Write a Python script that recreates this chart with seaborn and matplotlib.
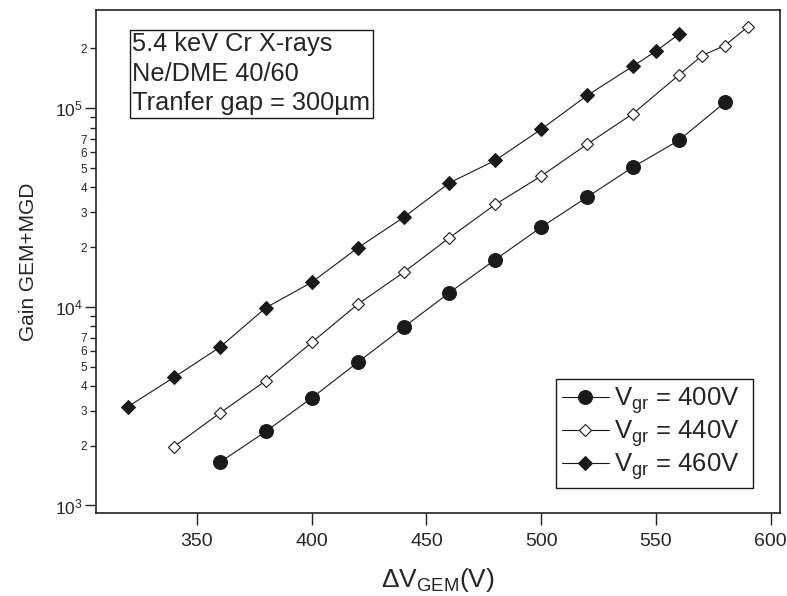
import numpy as np
import pandas as pd
import matplotlib
matplotlib.use('Agg')
import matplotlib.pyplot as plt
from matplotlib.ticker import FixedLocator, FuncFormatter, LogFormatterSciNotation
import seaborn as sns

sns.set_theme(style='ticks')
plt.rcParams['font.family'] = ['Liberation Sans', 'DejaVu Sans']
plt.rcParams['mathtext.fontset'] = 'custom'
plt.rcParams['mathtext.rm'] = 'Liberation Sans'
plt.rcParams['mathtext.it'] = 'Liberation Sans:italic'
plt.rcParams['mathtext.default'] = 'regular'

# data
v_400 = [360, 380, 400, 420, 440, 460, 480, 500, 520, 540, 560, 580]
g_400 = [1650, 2360, 3480, 5250, 7890, 11800, 17300, 25200, 35700, 50600, 69000, 107000]

v_440 = [340, 360, 380, 400, 420, 440, 460, 480, 500, 520, 540, 560, 570, 580, 590]
g_440 = [1980, 2920, 4250, 6620, 10300, 14900, 22300, 32800, 45600, 65900, 94000,
         147000, 184000, 207000, 257000]

v_460 = [320, 340, 360, 380, 400, 420, 440, 460, 480, 500, 520, 540, 550, 560]
g_460 = [3150, 4420, 6270, 9900, 13300, 19800, 28200, 42100, 54700, 78400, 116000,
         163000, 194000, 236000]

labels = ['V$_{gr}$ = 400V', 'V$_{gr}$ = 440V', 'V$_{gr}$ = 460V']
x_ticks = [350, 400, 450, 500, 550, 600]
info_text = '5.4 keV Cr X-rays\nNe/DME 40/60\nTranfer gap = 300\u00b5m'

fig = plt.figure(figsize=(7.87, 5.96), dpi=100)
ax = fig.add_axes([0.122, 0.139, 0.869, 0.844])

# one plot per series
sns.lineplot(x=v_400, y=g_400, ax=ax, color='k', lw=0.8, marker='o', ms=10,
             mfc='k', mec='k', label=labels[0])
sns.lineplot(x=v_440, y=g_440, ax=ax, color='k', lw=0.8, marker='D', ms=6.3,
             mfc='white', mec='k', mew=0.8, label=labels[1])
sns.lineplot(x=v_460, y=g_460, ax=ax, color='k', lw=0.8, marker='D', ms=6.8,
             mfc='k', mec='k', label=labels[2])

ax.set_yscale('log')
ax.set_xlim(306, 604)
ax.set_ylim(915, 3.12e5)

ax.set_xticks(x_ticks)
ax.xaxis.set_minor_locator(FixedLocator([]))
ax.set_yticks([1e3, 1e4, 1e5])
ax.yaxis.set_major_formatter(LogFormatterSciNotation())
minors = [m * 10.0 ** e for e in (3, 4, 5) for m in range(2, 10) if m * 10.0 ** e < 2.5e5]
ax.yaxis.set_minor_locator(FixedLocator(minors))

def minor_fmt(v, pos):
    m = int(round(v / 10 ** np.floor(np.log10(v))))
    return str(m) if m <= 7 else ''

ax.yaxis.set_minor_formatter(FuncFormatter(minor_fmt))

ax.tick_params(axis='x', which='major', direction='out', length=8.5, width=1,
               labelsize=14, pad=6, color='#222222')
ax.tick_params(axis='y', which='major', direction='out', length=7.7, width=1,
               labelsize=12.5, pad=2, color='#222222')
ax.tick_params(axis='y', which='minor', direction='out', length=4.5, width=1,
               labelsize=8.5, pad=2, color='#222222')
for s in ax.spines.values():
    s.set_color('#222222')
    s.set_linewidth(1.2)
ax.grid(False)

ax.set_xlabel('\u0394V$_{GEM}$(V)', fontsize=19, labelpad=11)
ax.set_ylabel('Gain GEM+MGD', fontsize=15, labelpad=12)

ax.text(0.0533, 0.9557, info_text, transform=ax.transAxes, ha='left', va='top',
        fontsize=18.3, linespacing=1.28,
        bbox=dict(boxstyle='square,pad=0.1', fc='white', ec='k', lw=1))

leg = ax.legend(loc='lower right', bbox_to_anchor=(0.9605, 0.0497), borderaxespad=0,
                fontsize=18.5, frameon=True, fancybox=False, edgecolor='k',
                handlelength=1.8, handletextpad=0.2, borderpad=0.25, labelspacing=0.08)
leg.get_frame().set_linewidth(1)
leg.get_frame().set_alpha(1)
# extra room on the right of the legend text, as in the original
for t in leg.get_texts():
    t.set_text(t.get_text() + '\u00a0\u00a0')

fig.savefig('out.png', dpi=100)
